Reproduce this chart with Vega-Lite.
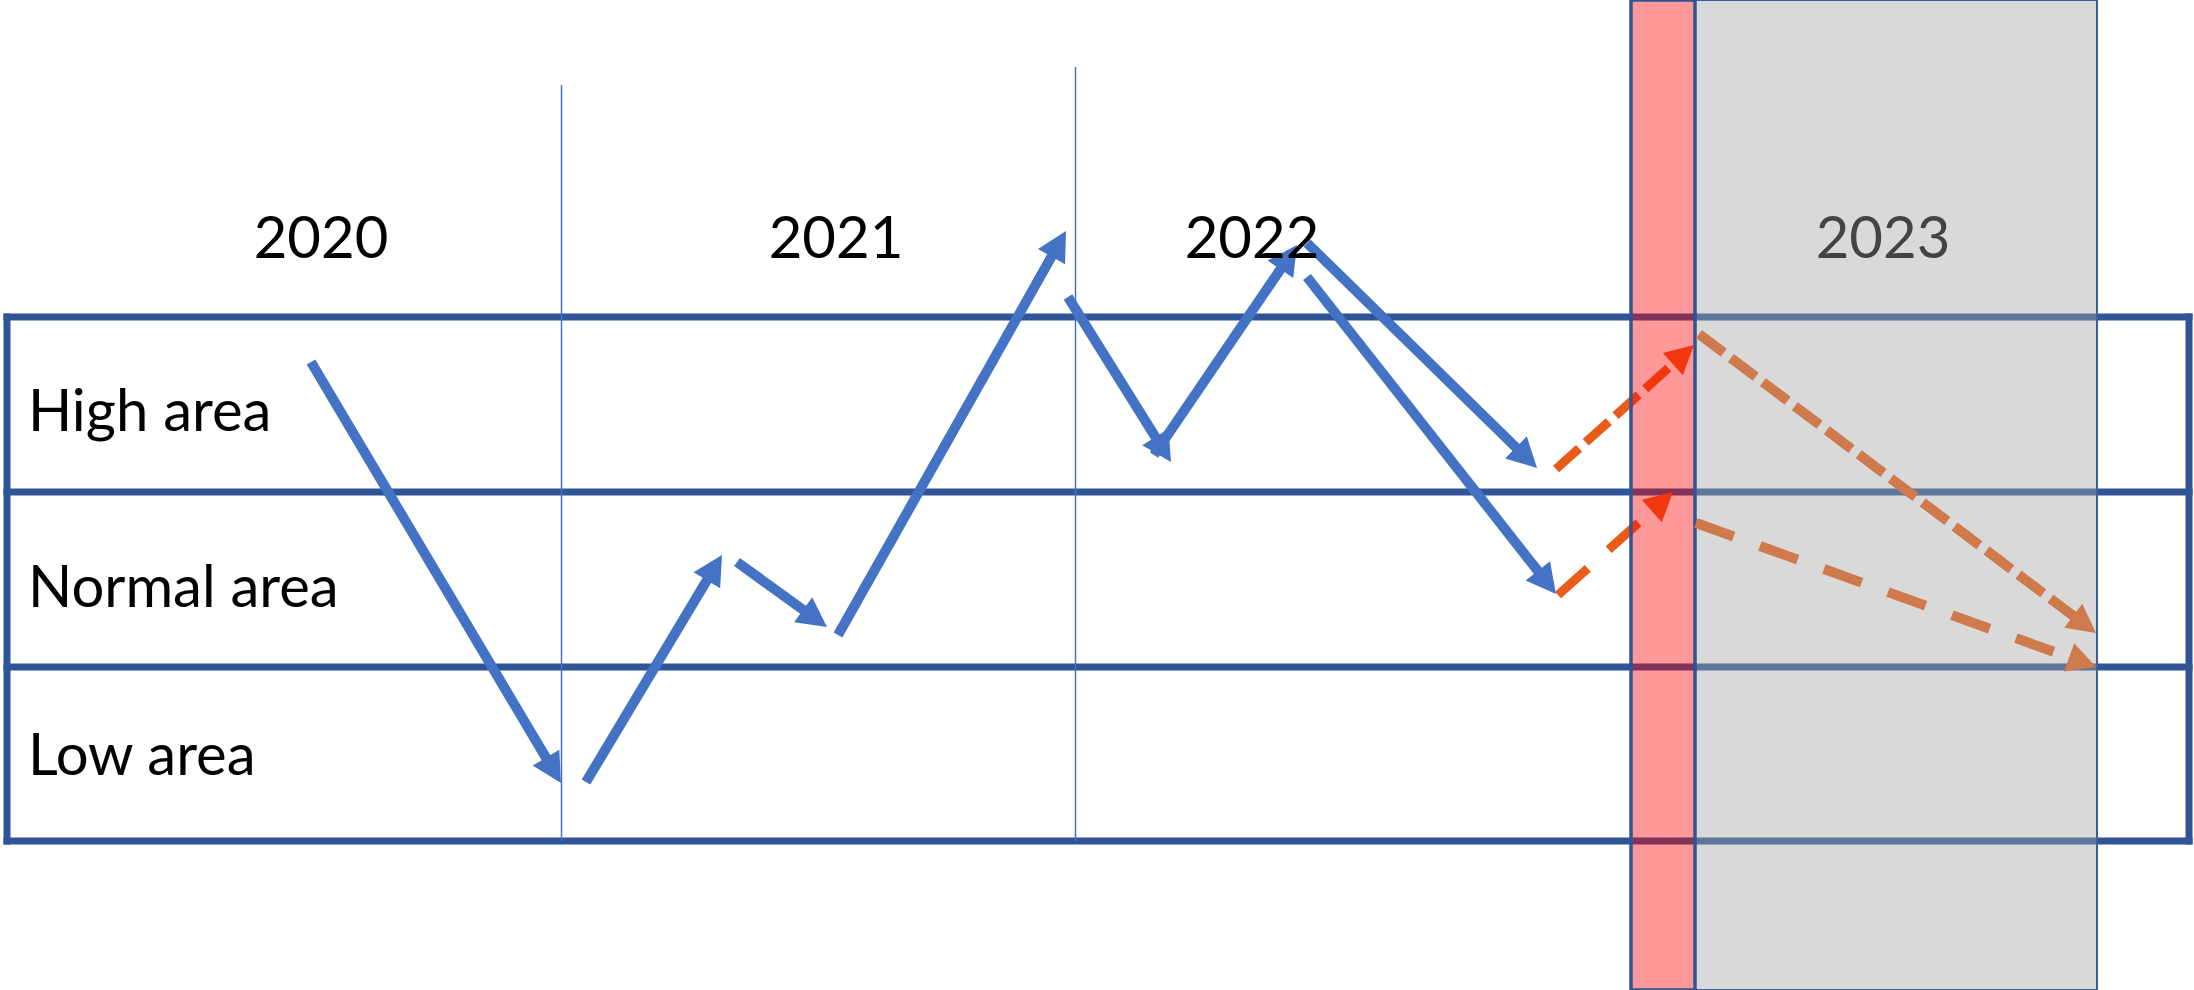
{
  "$schema": "https://vega.github.io/schema/vega-lite/v6.json",
  "width": 2194,
  "height": 990,
  "autosize": "none",
  "padding": 0,
  "background": "white",
  "config": {"view": {"stroke": null}},
  "datasets": {
    "grid": [
      {"x": 7, "x2": 2189, "y": 317, "y2": 317},
      {"x": 7, "x2": 2189, "y": 492, "y2": 492},
      {"x": 7, "x2": 2189, "y": 667, "y2": 667},
      {"x": 7, "x2": 2189, "y": 841, "y2": 841},
      {"x": 7, "x2": 7, "y": 317, "y2": 841},
      {"x": 2189, "x2": 2189, "y": 317, "y2": 841}
    ],
    "dividers": [
      {"x": 561.5, "x2": 561.5, "y": 85, "y2": 841},
      {"x": 1075.5, "x2": 1075.5, "y": 67, "y2": 841}
    ],
    "years": [
      {"label": "2020", "x": 321, "y": 258},
      {"label": "2021", "x": 836, "y": 258},
      {"label": "2022", "x": 1252, "y": 258},
      {"label": "2023", "x": 1883, "y": 258}
    ],
    "rows": [
      {"label": "High area", "x": 28, "y": 431},
      {"label": "Normal area", "x": 28, "y": 607},
      {"label": "Low area", "x": 28, "y": 775}
    ],
    "arrows": [
      {"kind": "blue", "path": "history", "x": 311, "y": 362, "tx": 561, "ty": 783},
      {"kind": "blue", "path": "history", "x": 586, "y": 782, "tx": 722, "ty": 555},
      {"kind": "blue", "path": "history", "x": 737, "y": 562, "tx": 827, "ty": 627},
      {"kind": "blue", "path": "history", "x": 838, "y": 635, "tx": 1066, "ty": 231},
      {"kind": "blue", "path": "history", "x": 1068, "y": 297, "tx": 1171, "ty": 462},
      {"kind": "blue", "path": "history", "x": 1154, "y": 455, "tx": 1297, "ty": 245},
      {"kind": "blue", "path": "history", "x": 1307, "y": 243, "tx": 1537, "ty": 468},
      {"kind": "blue", "path": "history", "x": 1307, "y": 277, "tx": 1556, "ty": 594},
      {"kind": "red", "path": "upper", "x": 1556, "y": 469, "tx": 1694, "ty": 345},
      {"kind": "red", "path": "lower", "x": 1558, "y": 595, "tx": 1673, "ty": 492},
      {"kind": "orange", "path": "upper", "x": 1699, "y": 334, "tx": 2096, "ty": 633},
      {"kind": "orange", "path": "lower", "x": 1696, "y": 523, "tx": 2096, "ty": 667}
    ],
    "bands": [
      {"band": "gray", "x": 1695, "x2": 2097, "y": 0, "y2": 990},
      {"band": "red", "x": 1631, "x2": 1695, "y": 0, "y2": 990}
    ]
  },
  "layer": [
    {
      "data": {"name": "grid"},
      "mark": {"type": "rule", "color": "#2F5597", "strokeWidth": 7, "strokeCap": "square"},
      "encoding": {
        "x": {"field": "x", "type": "quantitative", "scale": {"domain": [0, 2194], "nice": false, "zero": false}, "axis": null},
        "x2": {"field": "x2"},
        "y": {"field": "y", "type": "quantitative", "scale": {"domain": [0, 990], "reverse": true, "nice": false, "zero": false}, "axis": null},
        "y2": {"field": "y2"}
      }
    },
    {
      "data": {"name": "dividers"},
      "mark": {"type": "rule", "color": "#4472C4", "strokeWidth": 1.5},
      "encoding": {
        "x": {"field": "x", "type": "quantitative", "scale": {"domain": [0, 2194], "nice": false, "zero": false}, "axis": null},
        "x2": {"field": "x2"},
        "y": {"field": "y", "type": "quantitative", "scale": {"domain": [0, 990], "reverse": true, "nice": false, "zero": false}, "axis": null},
        "y2": {"field": "y2"}
      }
    },
    {
      "data": {"name": "arrows"},
      "transform": [
        {"filter": "datum.kind === 'blue' || datum.kind === 'red'"},
        {"calculate": "sqrt(pow(datum.tx - datum.x, 2) + pow(datum.ty - datum.y, 2))", "as": "len"},
        {"calculate": "datum.kind === 'blue' ? 24 : 21", "as": "cut"},
        {"calculate": "datum.tx - (datum.tx - datum.x) * datum.cut / datum.len", "as": "ex"},
        {"calculate": "datum.ty - (datum.ty - datum.y) * datum.cut / datum.len", "as": "ey"}
      ],
      "layer": [
        {
          "transform": [{"filter": "datum.kind === 'blue'"}],
          "mark": {"type": "rule", "color": "#4472C4", "strokeWidth": 10, "strokeCap": "butt"},
          "encoding": {
            "x": {"field": "x", "type": "quantitative", "scale": {"domain": [0, 2194], "nice": false, "zero": false}, "axis": null},
            "x2": {"field": "ex"},
            "y": {"field": "y", "type": "quantitative", "scale": {"domain": [0, 990], "reverse": true, "nice": false, "zero": false}, "axis": null},
            "y2": {"field": "ey"}
          }
        },
        {
          "transform": [{"filter": "datum.kind === 'red'"}],
          "mark": {"type": "rule", "color": "#E95B16", "strokeWidth": 9, "strokeCap": "butt"},
          "encoding": {
            "x": {"field": "x", "type": "quantitative", "scale": {"domain": [0, 2194], "nice": false, "zero": false}, "axis": null},
            "x2": {"field": "ex"},
            "y": {"field": "y", "type": "quantitative", "scale": {"domain": [0, 990], "reverse": true, "nice": false, "zero": false}, "axis": null},
            "y2": {"field": "ey"},
            "strokeDash": {"field": "path", "type": "nominal", "scale": {"domain": ["upper", "lower"], "range": [[31, 9], [40, 28]]}, "legend": null}
          }
        }
      ]
    },
    {
      "data": {"name": "arrows"},
      "transform": [
        {"filter": "datum.kind === 'blue' || datum.kind === 'red'"},
        {"calculate": "atan2(datum.tx - datum.x, datum.y - datum.ty) * 180 / PI", "as": "heading"}
      ],
      "mark": {"type": "point", "shape": "M0,0L-1,1.9L1,1.9Z", "filled": true, "opacity": 1, "strokeWidth": 0},
      "encoding": {
        "x": {"field": "tx", "type": "quantitative", "scale": {"domain": [0, 2194], "nice": false, "zero": false}, "axis": null},
        "y": {"field": "ty", "type": "quantitative", "scale": {"domain": [0, 990], "reverse": true, "nice": false, "zero": false}, "axis": null},
        "angle": {"field": "heading", "type": "quantitative", "scale": null},
        "color": {"field": "kind", "type": "nominal", "scale": {"domain": ["blue", "red", "orange"], "range": ["#4472C4", "#E95B16", "#CF7A4D"]}, "legend": null},
        "size": {"field": "kind", "type": "nominal", "scale": {"domain": ["blue", "red", "orange"], "range": [960, 841, 900]}, "legend": null}
      }
    },
    {
      "data": {"name": "years"},
      "mark": {"type": "text", "font": "Lato", "fontSize": 58, "align": "center", "baseline": "alphabetic", "color": "#000000"},
      "encoding": {
        "x": {"field": "x", "type": "quantitative", "scale": {"domain": [0, 2194], "nice": false, "zero": false}, "axis": null},
        "y": {"field": "y", "type": "quantitative", "scale": {"domain": [0, 990], "reverse": true, "nice": false, "zero": false}, "axis": null},
        "text": {"field": "label"}
      }
    },
    {
      "data": {"name": "rows"},
      "mark": {"type": "text", "font": "Lato", "fontSize": 58, "align": "left", "baseline": "alphabetic", "color": "#000000"},
      "encoding": {
        "x": {"field": "x", "type": "quantitative", "scale": {"domain": [0, 2194], "nice": false, "zero": false}, "axis": null},
        "y": {"field": "y", "type": "quantitative", "scale": {"domain": [0, 990], "reverse": true, "nice": false, "zero": false}, "axis": null},
        "text": {"field": "label"}
      }
    },
    {
      "data": {"name": "bands"},
      "transform": [{"filter": "datum.band === 'gray'"}],
      "mark": {"type": "rect", "fill": "#A3A3A3", "fillOpacity": 0.41, "stroke": "#3D5E9E", "strokeWidth": 2},
      "encoding": {
        "x": {"field": "x", "type": "quantitative", "scale": {"domain": [0, 2194], "nice": false, "zero": false}, "axis": null},
        "x2": {"field": "x2"},
        "y": {"field": "y", "type": "quantitative", "scale": {"domain": [0, 990], "reverse": true, "nice": false, "zero": false}, "axis": null},
        "y2": {"field": "y2"}
      }
    },
    {
      "data": {"name": "bands"},
      "transform": [{"filter": "datum.band === 'red'"}],
      "mark": {"type": "rect", "fill": "#FF0000", "fillOpacity": 0.4, "stroke": "#2F5597", "strokeWidth": 3.5},
      "encoding": {
        "x": {"field": "x", "type": "quantitative", "scale": {"domain": [0, 2194], "nice": false, "zero": false}, "axis": null},
        "x2": {"field": "x2"},
        "y": {"field": "y", "type": "quantitative", "scale": {"domain": [0, 990], "reverse": true, "nice": false, "zero": false}, "axis": null},
        "y2": {"field": "y2"}
      }
    },
    {
      "data": {"name": "arrows"},
      "transform": [
        {"filter": "datum.kind === 'orange'"},
        {"calculate": "sqrt(pow(datum.tx - datum.x, 2) + pow(datum.ty - datum.y, 2))", "as": "len"},
        {"calculate": "datum.tx - (datum.tx - datum.x) * 23 / datum.len", "as": "ex"},
        {"calculate": "datum.ty - (datum.ty - datum.y) * 23 / datum.len", "as": "ey"}
      ],
      "mark": {"type": "rule", "color": "#CF7A4D", "strokeWidth": 10, "strokeCap": "butt"},
      "encoding": {
        "x": {"field": "x", "type": "quantitative", "scale": {"domain": [0, 2194], "nice": false, "zero": false}, "axis": null},
        "x2": {"field": "ex"},
        "y": {"field": "y", "type": "quantitative", "scale": {"domain": [0, 990], "reverse": true, "nice": false, "zero": false}, "axis": null},
        "y2": {"field": "ey"},
        "strokeDash": {"field": "path", "type": "nominal", "scale": {"domain": ["upper", "lower"], "range": [[31, 10], [40, 29]]}, "legend": null}
      }
    },
    {
      "data": {"name": "arrows"},
      "transform": [
        {"filter": "datum.kind === 'orange'"},
        {"calculate": "atan2(datum.tx - datum.x, datum.y - datum.ty) * 180 / PI", "as": "heading"}
      ],
      "mark": {"type": "point", "shape": "M0,0L-1,1.9L1,1.9Z", "filled": true, "opacity": 1, "strokeWidth": 0, "size": 900, "color": "#CF7A4D"},
      "encoding": {
        "x": {"field": "tx", "type": "quantitative", "scale": {"domain": [0, 2194], "nice": false, "zero": false}, "axis": null},
        "y": {"field": "ty", "type": "quantitative", "scale": {"domain": [0, 990], "reverse": true, "nice": false, "zero": false}, "axis": null},
        "angle": {"field": "heading", "type": "quantitative", "scale": null}
      }
    }
  ]
}
